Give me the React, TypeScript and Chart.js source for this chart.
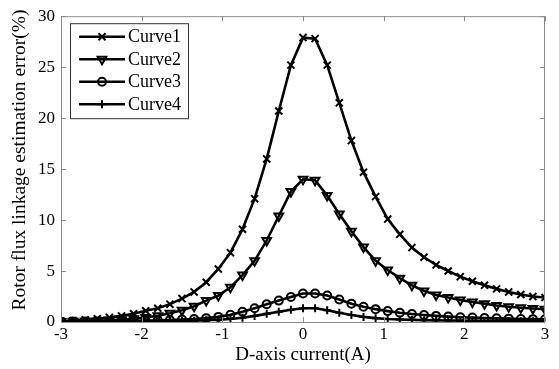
import React, { useEffect, useRef } from "react";
import { Chart, registerables } from "chart.js";

Chart.register(...registerables);

// D-axis current sample points (A)
const currents = [
  -3.0, -2.85, -2.7, -2.55, -2.4, -2.25, -2.1, -1.95, -1.8, -1.65, -1.5,
  -1.35, -1.2, -1.05, -0.9, -0.75, -0.6, -0.45, -0.3, -0.15, 0.0,
  0.15, 0.3, 0.45, 0.6, 0.75, 0.9, 1.05, 1.2, 1.35, 1.5,
  1.65, 1.8, 1.95, 2.1, 2.25, 2.4, 2.55, 2.7, 2.85, 3.0,
];

// Rotor flux linkage estimation error (%) for each curve
const curve1 = [
  0.1, 0.15, 0.22, 0.32, 0.45, 0.6, 0.8, 1.1, 1.35, 1.75, 2.3,
  2.95, 3.9, 5.2, 6.8, 9.1, 12.1, 16.0, 20.7, 25.2, 27.9,
  27.8, 25.2, 21.5, 17.8, 14.7, 12.3, 10.1, 8.6, 7.3, 6.35,
  5.6, 5.0, 4.45, 4.0, 3.6, 3.25, 2.95, 2.7, 2.5, 2.4,
];
const curve2 = [
  0.05, 0.07, 0.1, 0.13, 0.17, 0.23, 0.32, 0.45, 0.62, 0.85, 1.15,
  1.55, 2.1, 2.6, 3.4, 4.6, 6.0, 8.0, 10.4, 12.8, 14.0,
  13.9, 12.4, 10.6, 8.9, 7.35, 6.0, 5.1, 4.3, 3.6, 3.05,
  2.65, 2.4, 2.15, 1.97, 1.8, 1.62, 1.5, 1.4, 1.32, 1.25,
];
const curve3 = [
  0.03, 0.04, 0.05, 0.06, 0.07, 0.09, 0.11, 0.13, 0.16, 0.2, 0.25,
  0.3, 0.38, 0.5, 0.7, 1.0, 1.35, 1.75, 2.1, 2.45, 2.8,
  2.8, 2.6, 2.2, 1.8, 1.5, 1.26, 1.07, 0.9, 0.78, 0.68,
  0.6, 0.53, 0.47, 0.43, 0.39, 0.36, 0.33, 0.3, 0.28, 0.26,
];
const curve4 = [
  0.02, 0.02, 0.03, 0.03, 0.04, 0.04, 0.05, 0.06, 0.07, 0.08, 0.1,
  0.13, 0.17, 0.22, 0.3, 0.42, 0.6, 0.8, 1.0, 1.2, 1.35,
  1.35, 1.15, 0.9, 0.68, 0.5, 0.38, 0.3, 0.25, 0.21, 0.18,
  0.16, 0.14, 0.13, 0.12, 0.11, 0.1, 0.09, 0.08, 0.08, 0.07,
];

const seriesNames = ["Curve1", "Curve2", "Curve3", "Curve4"];
const xTicks = [-3, -2, -1, 0, 1, 2, 3];
const yTicks = [0, 5, 10, 15, 20, 25, 30];
const yTitle = "Rotor flux linkage estimation error(%)";

const SERIF = "'Liberation Serif', 'Times New Roman', serif";
const FRAME = "#8a8a8a";
const LINE_W = 2.6;
const MARK_W = 2;

type Marker = "x" | "tri" | "circ" | "plus";
const markers: Marker[] = ["x", "tri", "circ", "plus"];

function drawMarker(ctx: CanvasRenderingContext2D, m: Marker, x: number, y: number) {
  ctx.save();
  ctx.strokeStyle = "#000";
  ctx.lineWidth = MARK_W;
  ctx.beginPath();
  if (m === "x") {
    const r = 3.5;
    ctx.moveTo(x - r, y - r); ctx.lineTo(x + r, y + r);
    ctx.moveTo(x - r, y + r); ctx.lineTo(x + r, y - r);
  } else if (m === "tri") {
    const r = 5;
    ctx.moveTo(x - r * 0.866, y - r * 0.5);
    ctx.lineTo(x + r * 0.866, y - r * 0.5);
    ctx.lineTo(x, y + r);
    ctx.closePath();
  } else if (m === "circ") {
    ctx.arc(x, y, 4, 0, Math.PI * 2);
  } else {
    const r = 4;
    ctx.moveTo(x - r, y); ctx.lineTo(x + r, y);
    ctx.moveTo(x, y - r); ctx.lineTo(x, y + r);
  }
  ctx.stroke();
  ctx.restore();
}

// Box frame with inward tick marks, the y-axis title and the legend box
const framePlugin = {
  id: "frameTicks",
  afterDatasetsDraw(chart: any) {
    const { ctx, chartArea: a, scales } = chart;
    ctx.save();
    ctx.strokeStyle = FRAME;
    ctx.lineWidth = 1;
    ctx.strokeRect(a.left + 0.5, a.top + 0.5, a.right - a.left - 1, a.bottom - a.top);
    ctx.beginPath();
    const tl = 5;
    xTicks.forEach((v) => {
      const px = Math.round(scales.x.getPixelForValue(v)) + 0.5;
      ctx.moveTo(px, a.bottom); ctx.lineTo(px, a.bottom - tl);
      ctx.moveTo(px, a.top); ctx.lineTo(px, a.top + tl);
    });
    yTicks.forEach((v) => {
      const py = Math.round(scales.y.getPixelForValue(v)) + 0.5;
      ctx.moveTo(a.left, py); ctx.lineTo(a.left + tl, py);
      ctx.moveTo(a.right, py); ctx.lineTo(a.right - tl, py);
    });
    ctx.stroke();
    ctx.restore();
  },
  afterDraw(chart: any) {
    const { ctx, chartArea: a } = chart;

    // y-axis title
    ctx.save();
    ctx.translate(20, 160);
    ctx.rotate(-Math.PI / 2);
    ctx.font = `19.5px ${SERIF}`;
    ctx.fillStyle = "#000";
    ctx.textAlign = "center";
    ctx.textBaseline = "middle";
    ctx.fillText(yTitle, 0, 0);
    ctx.restore();

    // legend box in the upper-left corner of the plot
    const bx = a.left + 9;
    const by = a.top + 7;
    const bw = 118;
    const bh = 95;
    ctx.save();
    ctx.fillStyle = "#fff";
    ctx.fillRect(bx, by, bw, bh);
    ctx.strokeStyle = "#333";
    ctx.lineWidth = 1;
    ctx.strokeRect(bx + 0.5, by + 0.5, bw, bh);
    ctx.font = `18px ${SERIF}`;
    ctx.textBaseline = "middle";
    ctx.fillStyle = "#000";
    seriesNames.forEach((name, i) => {
      const y = by + 13.5 + i * 22.5;
      ctx.strokeStyle = "#000";
      ctx.lineWidth = LINE_W;
      ctx.beginPath();
      ctx.moveTo(bx + 9, y);
      ctx.lineTo(bx + 55, y);
      ctx.stroke();
      drawMarker(ctx, markers[i], bx + 32, y);
      ctx.fillText(name, bx + 58, y + 1);
    });
    ctx.restore();
  },
};

export default function App() {
  const canvasRef = useRef<HTMLCanvasElement | null>(null);

  useEffect(() => {
    const canvas = canvasRef.current;
    if (!canvas) return;

    const toPoints = (vals: number[]) => vals.map((v, i) => ({ x: currents[i], y: v }));
    const common = {
      borderColor: "#000",
      borderWidth: LINE_W,
      pointBorderColor: "#000",
      pointBorderWidth: MARK_W,
      pointBackgroundColor: "rgba(0,0,0,0)",
      tension: 0,
      fill: false,
    };

    const chart = new Chart(canvas, {
      type: "line",
      data: {
        datasets: [
          { ...common, label: seriesNames[0], data: toPoints(curve1), pointStyle: "crossRot", pointRadius: 5 },
          { ...common, label: seriesNames[1], data: toPoints(curve2), pointStyle: "triangle", rotation: 180, pointRadius: 5 },
          { ...common, label: seriesNames[2], data: toPoints(curve3), pointStyle: "circle", pointRadius: 4 },
          { ...common, label: seriesNames[3], data: toPoints(curve4), pointStyle: "cross", pointRadius: 4 },
        ],
      },
      options: {
        animation: false,
        responsive: false,
        maintainAspectRatio: false,
        layout: { padding: { top: 13, right: 14, left: 0, bottom: 0 } },
        plugins: { legend: { display: false }, tooltip: { enabled: false } },
        scales: {
          x: {
            type: "linear",
            min: -3,
            max: 3,
            grid: { display: false, drawTicks: false },
            border: { display: false },
            afterBuildTicks: (s: any) => { s.ticks = xTicks.map((v) => ({ value: v })); },
            afterFit: (s: any) => { s.height = 47; },
            ticks: { color: "#000", font: { family: SERIF, size: 17 }, padding: 2 },
            title: {
              display: true,
              text: "D-axis current(A)",
              color: "#000",
              font: { family: SERIF, size: 19 },
              padding: { top: 0, bottom: 3 },
            },
          },
          y: {
            type: "linear",
            min: 0,
            max: 30,
            grid: { display: false, drawTicks: false },
            border: { display: false },
            afterBuildTicks: (s: any) => { s.ticks = yTicks.map((v) => ({ value: v })); },
            afterFit: (s: any) => { s.width = 61; },
            ticks: { color: "#000", font: { family: SERIF, size: 17 }, padding: 6 },
          },
        },
      },
      plugins: [framePlugin],
    } as any);

    return () => chart.destroy();
  }, []);

  return (
    <div style={{ position: "fixed", left: 0, top: 0, width: 559, height: 369, background: "#fff" }}>
      <canvas ref={canvasRef} width={559} height={369} style={{ width: 559, height: 369 }} />
    </div>
  );
}
